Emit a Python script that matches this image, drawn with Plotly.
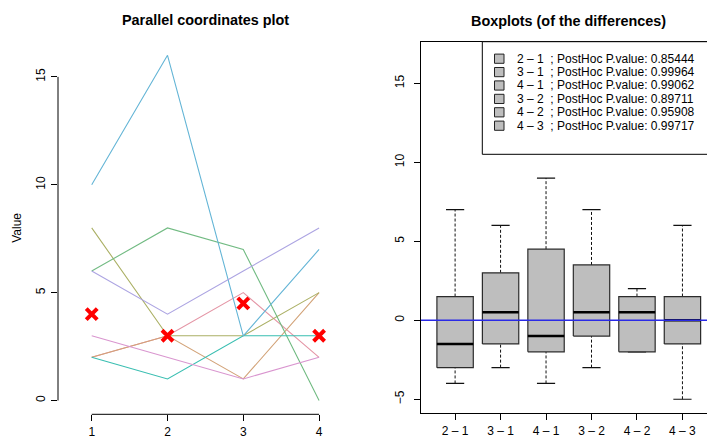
import plotly.graph_objects as go

# ---- data -------------------------------------------------------------
groups = [1, 2, 3, 4]
series_values = [
    [2, 3, 5, 2],
    [2, 3, 1, 5],
    [8, 3, 3, 5],
    [6, 8, 7, 0],
    [2, 1, 3, 3],
    [10, 16, 3, 7],
    [6, 4, 6, 8],
    [3, 2, 1, 2],
]
series_colors = ["#E495A5", "#D2A277", "#ABB065", "#72BB83",
                 "#39BEB1", "#64B5D6", "#ACA4E2", "#D995CF"]
center_values = [4, 3, 4.5, 3]

comparisons = ["2 \u2013 1", "3 \u2013 1", "4 \u2013 1", "3 \u2013 2", "4 \u2013 2", "4 \u2013 3"]
whisker_low = [-4, -3, -4, -3, -2, -5]
q1 = [-3, -1.5, -2, -1, -2, -1.5]
medians = [-1.5, 0.5, -1, 0.5, 0.5, 0]
q3 = [1.5, 3, 4.5, 3.5, 1.5, 1.5]
whisker_high = [7, 6, 9, 7, 2, 6]
posthoc_p = ["0.85444", "0.99964", "0.99062", "0.89711", "0.95908", "0.99717"]

left_yticks = [0, 5, 10, 15]
right_yticks = [-5, 0, 5, 10, 15]

# ---- canvas geometry ----------------------------------------------------
W, H = 707, 439
FONT = "Liberation Sans, Arial, Helvetica, sans-serif"


def px_x(p):
    return p / W


def px_y(p):
    return 1 - p / H


fig = go.Figure()

# ---- parallel coordinates panel ----------------------------------------
for vals, col in zip(series_values, series_colors):
    fig.add_trace(go.Scatter(x=groups, y=vals, mode="lines",
                             line=dict(color=col, width=1.1),
                             xaxis="x", yaxis="y", showlegend=False,
                             hoverinfo="skip"))

fig.add_trace(go.Scatter(x=groups, y=center_values, mode="markers",
                         marker=dict(symbol="x-thin", size=11,
                                     line=dict(color="#FF0000", width=4)),
                         xaxis="x", yaxis="y", showlegend=False))

# ---- boxplots of differences -------------------------------------------
box_half = 0.4
cap_half = 0.2
gray = "#BEBEBE"
edge = "#2b2b2b"
for i in range(len(comparisons)):
    c = i + 1
    # whiskers (dashed) and caps
    for lo, hi in ((whisker_low[i], q1[i]), (q3[i], whisker_high[i])):
        fig.add_trace(go.Scatter(x=[c, c], y=[lo, hi], mode="lines",
                                 line=dict(color="#111111", width=1, dash="3px,2px"),
                                 xaxis="x2", yaxis="y2", showlegend=False,
                                 hoverinfo="skip"))
    for w in (whisker_low[i], whisker_high[i]):
        fig.add_trace(go.Scatter(x=[c - cap_half, c + cap_half], y=[w, w],
                                 mode="lines", line=dict(color="#111111", width=1.2),
                                 xaxis="x2", yaxis="y2", showlegend=False,
                                 hoverinfo="skip"))
    # box body
    fig.add_trace(go.Scatter(
        x=[c - box_half, c + box_half, c + box_half, c - box_half, c - box_half],
        y=[q1[i], q1[i], q3[i], q3[i], q1[i]],
        mode="lines", fill="toself", fillcolor=gray,
        line=dict(color=edge, width=1.2),
        xaxis="x2", yaxis="y2", showlegend=False, hoverinfo="skip"))
    # median
    fig.add_trace(go.Scatter(x=[c - box_half, c + box_half], y=[medians[i], medians[i]],
                             mode="lines", line=dict(color="#000000", width=2.5),
                             xaxis="x2", yaxis="y2", showlegend=False,
                             hoverinfo="skip"))

# reference line at zero
fig.add_trace(go.Scatter(x=[0.25, 6.54], y=[0, 0], mode="lines",
                         line=dict(color="#2a2ae6", width=1.4),
                         xaxis="x2", yaxis="y2", showlegend=False,
                         hoverinfo="skip"))

# ---- axes ---------------------------------------------------------------
tickfont = dict(family=FONT, size=12, color="#000000")
left_dom_x = [px_x(58), px_x(352.8)]
left_dom_y = [px_y(414.3), px_y(41.5)]
right_dom_x = [px_x(421), 1.0]
right_dom_y = [px_y(413.3), px_y(41.7)]

layout = dict(
    width=W, height=H,
    margin=dict(l=0, r=0, t=0, b=0),
    paper_bgcolor="white", plot_bgcolor="white",
    font=dict(family=FONT, size=12, color="#000000"),
    showlegend=False,
    xaxis=dict(domain=left_dom_x, anchor="y", range=[0.555, 4.445],
               tickvals=groups, ticks="outside", ticklen=6, tickwidth=1,
               tickcolor="#000", showgrid=False, zeroline=False, showline=False,
               tickfont=tickfont),
    yaxis=dict(domain=left_dom_y, anchor="x", range=[-0.64, 16.64],
               tickvals=left_yticks, ticks="outside", ticklen=6, tickwidth=1,
               tickcolor="#000", tickangle=-90, showgrid=False, zeroline=False,
               showline=False, tickfont=tickfont, ticklabelstandoff=1,
               title=dict(text="Value", font=dict(family=FONT, size=12), standoff=9)),
    xaxis2=dict(domain=right_dom_x, anchor="y2", range=[0.25, 6.54],
                tickvals=list(range(1, len(comparisons) + 1)), ticktext=comparisons,
                ticks="outside", ticklen=6, tickwidth=1, tickcolor="#000",
                showgrid=False, zeroline=False, showline=True, mirror=True,
                linecolor="#000", linewidth=1, tickfont=tickfont),
    yaxis2=dict(domain=right_dom_y, anchor="x2", range=[-5.89, 17.63],
                tickvals=right_yticks, ticks="outside", ticklen=6, tickwidth=1,
                tickcolor="#000", tickangle=-90, showgrid=False, zeroline=False,
                showline=True, linecolor="#000", linewidth=1, tickfont=tickfont,
                ticklabelstandoff=5),
)
fig.update_layout(**layout)

shapes = [
    # axis lines of the parallel plot, spanning first to last tick
    dict(type="line", xref="x", yref="y domain", x0=groups[0], x1=groups[-1],
         y0=0, y1=0, line=dict(color="#000", width=1)),
    dict(type="line", xref="x domain", yref="y", x0=0, x1=0,
         y0=left_yticks[0], y1=left_yticks[-1], line=dict(color="#000", width=1)),
    # legend frame
    dict(type="rect", xref="paper", yref="paper", x0=px_x(482.3), x1=px_x(720),
         y0=px_y(154.3), y1=px_y(41.7), line=dict(color="#000", width=1),
         fillcolor="white", layer="above"),
]

annotations = [
    dict(text="<b>Parallel coordinates plot</b>", xref="paper", yref="paper",
         x=px_x(205.4), y=px_y(19.5), xanchor="center", yanchor="middle",
         showarrow=False, font=dict(family=FONT, size=14.4)),
    dict(text="<b>Boxplots (of the differences)</b>", xref="paper", yref="paper",
         x=px_x(568.5), y=px_y(20.5), xanchor="center", yanchor="middle",
         showarrow=False, font=dict(family=FONT, size=14.4)),
]

row0, row_step = 58.7, 13.4
for i, (lab, p) in enumerate(zip(comparisons, posthoc_p)):
    yc = row0 + i * row_step
    shapes.append(dict(type="rect", xref="paper", yref="paper",
                       x0=px_x(494.5), x1=px_x(504), y0=px_y(yc + 4.6), y1=px_y(yc - 4.6),
                       line=dict(color="#222", width=1), fillcolor=gray, layer="above"))
    annotations.append(dict(text=f"{lab}\u00a0\u00a0; PostHoc P.value: {p}",
                            xref="paper", yref="paper", x=px_x(514.5), y=px_y(yc),
                            xanchor="left", yanchor="middle", showarrow=False,
                            font=dict(family=FONT, size=12)))

fig.update_layout(shapes=shapes, annotations=annotations)
fig.write_html("out.html")
